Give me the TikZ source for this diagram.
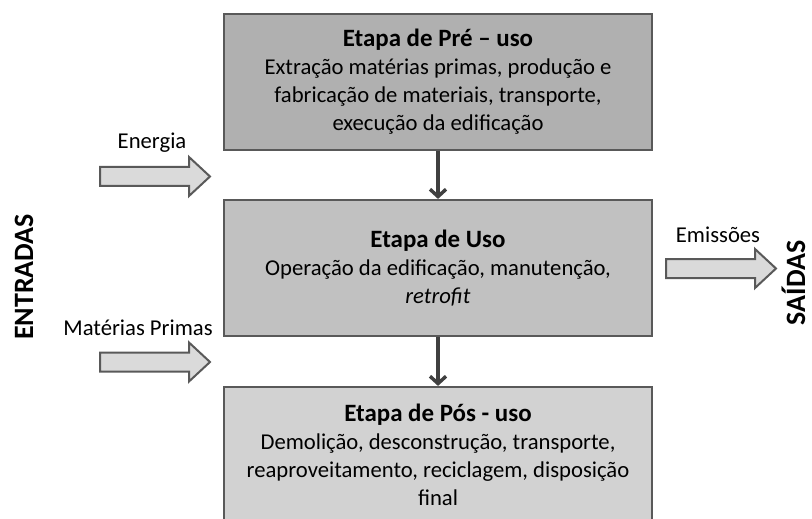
\documentclass[tikz,border=0pt]{standalone}
\usepackage{fontspec}
\setmainfont{Carlito}
\usepackage{tikz}
\usetikzlibrary{positioning, arrows.meta}

\definecolor{preuso}{RGB}{176,176,176}
\definecolor{usogray}{RGB}{193,193,193}
\definecolor{posuso}{RGB}{210,210,210}
\definecolor{arrowfill}{RGB}{218,218,218}
\definecolor{edgegray}{RGB}{89,89,89}
\definecolor{flowgray}{RGB}{64,64,64}

\newcommand{\etapatitulo}[1]{{\fontsize{18.7}{21}\selectfont\bfseries #1}}

\begin{document}
\begin{tikzpicture}[x=0.75pt, y=0.75pt,
	every node/.style={font=\fontsize{17}{21}\selectfont},
	stage/.style={draw=edgegray, line width=1.6pt, minimum width=321pt, minimum height=102pt, inner sep=0pt, align=center},
	flow/.style={draw=flowgray, line width=2.6pt, -{Straight Barb[length=5.5pt, width=12pt]}},
	blockarrow/.style={draw=edgegray, fill=arrowfill, line width=1.5pt, line join=miter},
	side/.style={rotate=90, anchor=base, font=\bfseries\fontsize{21}{25}\selectfont}]
			
			\useasboundingbox (0,0) rectangle (812,518);
			
			% etapas
			\node [stage, fill=preuso] (pre) at (438,436) {\etapatitulo{Etapa de Pré – uso}\\Extração matérias primas, produção e\\fabricação de materiais, transporte,\\execução da edificação};
			\node [stage, fill=usogray] (uso) at (438,250) {\etapatitulo{Etapa de Uso}\\Operação da edificação, manutenção,\\\textit{retrofit}};
			\node [stage, fill=posuso] (pos) at (438,63) {\etapatitulo{Etapa de Pós - uso}\\Demolição, desconstrução, transporte,\\reaproveitamento, reciclagem, disposição\\final};
			
			\draw [flow] (pre) -- (uso);
			\draw [flow] (uso) -- (pos);
			
			% setas de entrada e saida
			\foreach \bx/\by in {100/341.5, 100/156, 666/249.5}
			\draw [blockarrow] (\bx,\by-9.5) -- ++(89,0) -- ++(0,-10) -- ++(21,19.5) -- ++(-21,19.5) -- ++(0,-10) -- ++(-89,0) -- cycle;
			
			\node [anchor=base] (energia) at (152,369) {Energia};
			\node [anchor=base] (materias) at (138,183) {Matérias Primas};
			\node [anchor=base] (emissoes) at (718,276) {Emissões};
			
			\node [side] (entradas) at (33,241) {ENTRADAS};
			\node [side] (saidas) at (805,235) {SAÍDAS};
			\end{tikzpicture}
\end{document}
